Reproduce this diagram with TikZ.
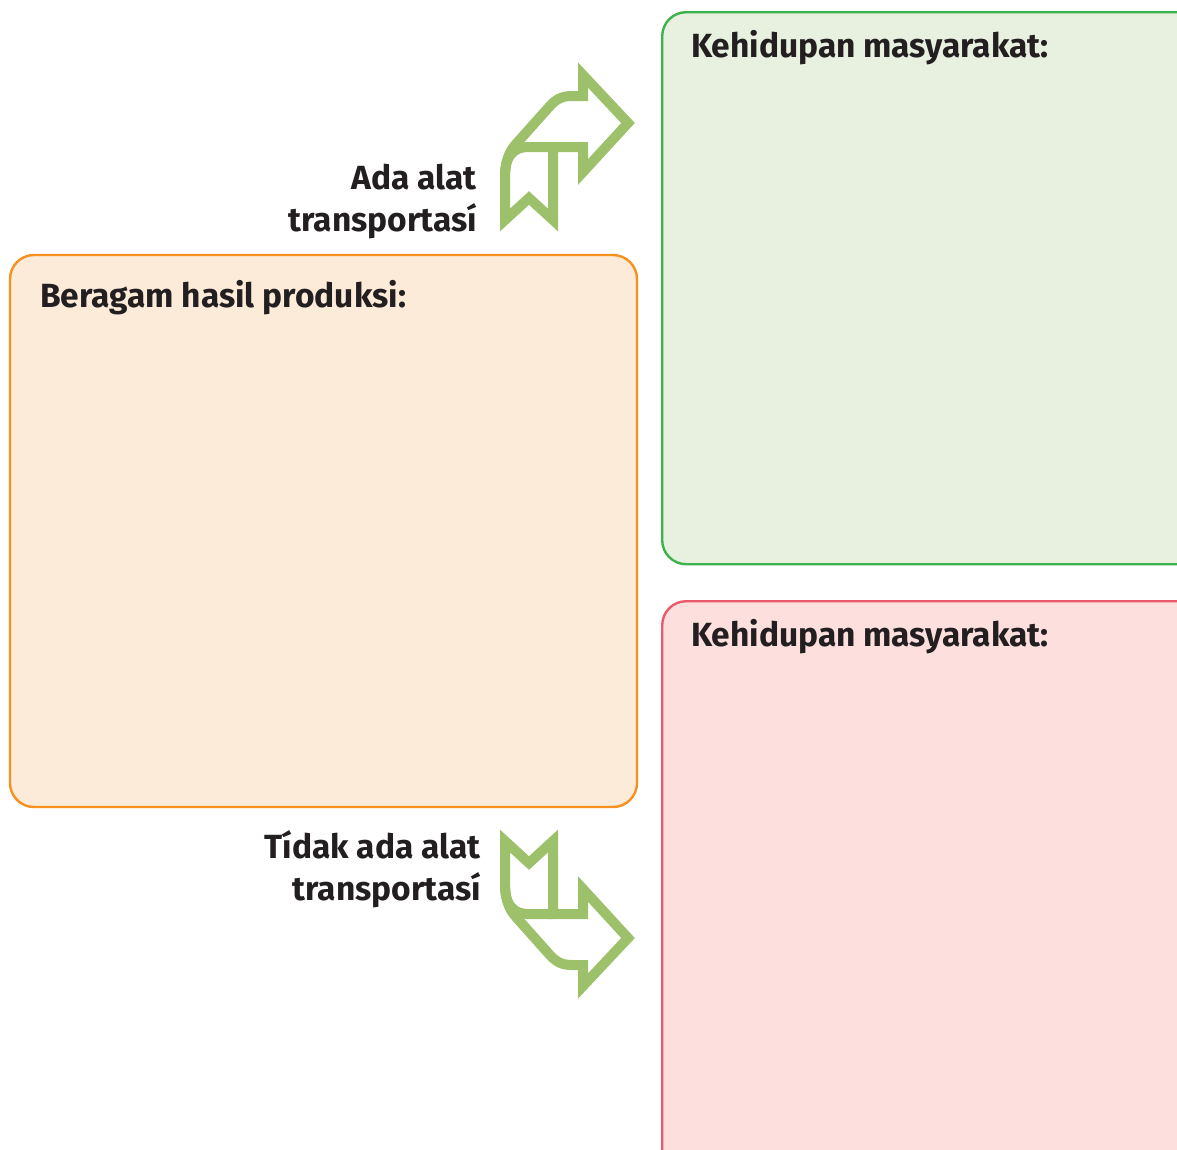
\documentclass[tikz,border=0pt]{standalone}
\usepackage{fontspec}
\setmainfont{Fira Sans}
\definecolor{inkdark}{HTML}{231F20}
\definecolor{arrowgreen}{HTML}{9CC16A}
\definecolor{greenline}{HTML}{3CB34A}
\definecolor{greenfill}{HTML}{E8F1DF}
\definecolor{orangeline}{HTML}{F7901E}
\definecolor{orangefill}{HTML}{FDEBDA}
\definecolor{redline}{HTML}{EA5A6A}
\definecolor{redfill}{HTML}{FDE0DD}
\tikzset{
  panel/.style={draw,rounded corners=24pt,line width=2.4pt,inner sep=0pt},
  paneltitle/.style={anchor=base west,inner sep=0pt,text=inkdark,font=\fontsize{33.5}{42}\selectfont\bfseries},
  flowlabel/.style={anchor=north east,inner sep=0pt,align=right,text=inkdark,font=\fontsize{33.5}{42}\selectfont\bfseries},
  bentarrow/.style={draw=arrowgreen,line width=10pt,line join=miter,miter limit=4}
}
\begin{document}
\begin{tikzpicture}[x=1pt,y=-1pt]
\useasboundingbox (0,0) rectangle (1177,1149);
% panels
\node[panel,draw=orangeline,fill=orangefill,minimum width=627pt,minimum height=552pt] (hasil) at (323.5,531) {};
\node[panel,draw=greenline,fill=greenfill,minimum width=540pt,minimum height=552pt,anchor=north west] (adaBox) at (661,11) {};
\node[panel,draw=redline,fill=redfill,minimum width=540pt,minimum height=580pt,anchor=north west] (tidakBox) at (661,600) {};
% titles
\node[paneltitle] (hasilTitle) at (40,307) {Beragam hasil produksi:};
\node[paneltitle] (adaTitle) at (691,57) {Kehidupan masyarakat:};
\node[paneltitle] (tidakTitle) at (691,646) {Kehidupan masyarakat:};
% arrow labels
\node[flowlabel] (adaLabel) at (477,163.5) {Ada alat\\transportasí};
\node[flowlabel] (tidakLabel) at (481,830.5) {Tídak ada alat\\transportasí};
% bent arrow up
\draw[bentarrow] (553,147) -- (583,147) -- (583,172) -- (628,123) -- (583,75) -- (583,96) -- (572,96)
  .. controls (562,96) and (556,99) .. (549,107) -- (516,144)
  .. controls (508,153) and (505,163) .. (505,180) -- (505,220) -- (529,198) -- (553,220) -- cycle;
\draw[bentarrow] (553,147) -- (528,147) .. controls (514,147) and (505,156) .. (505,175);
% bent arrow down
\begin{scope}[shift={(0,1061)},yscale=-1]
\draw[bentarrow] (553,147) -- (583,147) -- (583,172) -- (628,123) -- (583,75) -- (583,96) -- (572,96)
  .. controls (562,96) and (556,99) .. (549,107) -- (516,144)
  .. controls (508,153) and (505,163) .. (505,180) -- (505,220) -- (529,198) -- (553,220) -- cycle;
\draw[bentarrow] (553,147) -- (528,147) .. controls (514,147) and (505,156) .. (505,175);
\end{scope}
\end{tikzpicture}
\end{document}
